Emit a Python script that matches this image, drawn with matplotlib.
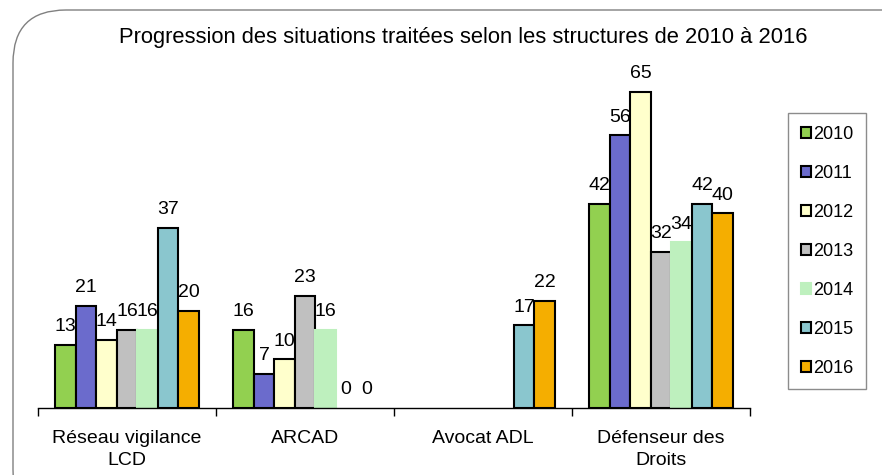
import numpy as np
import matplotlib
matplotlib.use("Agg")
import matplotlib.pyplot as plt
from matplotlib.patches import FancyBboxPatch

plt.rcParams['font.family'] = ['Liberation Sans', 'DejaVu Sans']

# data
categories = ["Réseau vigilance\nLCD", "ARCAD", "Avocat ADL", "Défenseur des\nDroits"]
years = ["2010", "2011", "2012", "2013", "2014", "2015", "2016"]
v2010 = [13, 16, np.nan, 42]
v2011 = [21, 7, np.nan, 56]
v2012 = [14, 10, np.nan, 65]
v2013 = [16, 23, np.nan, 32]
v2014 = [16, 16, np.nan, 34]
v2015 = [37, 0, 17, 42]
v2016 = [20, 0, 22, 40]
series = [v2010, v2011, v2012, v2013, v2014, v2015, v2016]

colors = ["#92D050", "#6B6BCC", "#FFFFCC", "#C0C0C0", "#BEF0BE", "#8AC6CE", "#F5AE00"]
edges = ["black", "black", "black", "black", "#BEF0BE", "black", "black"]

fig = plt.figure(figsize=(8.82, 4.75), dpi=100)

# rounded frame around the chart (cut off at right and bottom like the original)
frame = FancyBboxPatch((13 / 882, -0.1), 1.2, 1.1 - 10 / 475,
                       boxstyle="round,pad=0,rounding_size=0.06",
                       transform=fig.transFigure, fill=False,
                       edgecolor="#808080", linewidth=1.0, mutation_aspect=882 / 475)
fig.patches.append(frame)

ax = fig.add_axes([38 / 882, 67 / 475, 712 / 882, 353 / 475])

x = np.arange(len(categories))
w = 0.115
for i, (vals, yr) in enumerate(zip(series, years)):
    pos = x + (i - 3) * w
    vals = np.array(vals, dtype=float)
    shown = np.nan_to_num(vals) > 0
    ax.bar(pos[shown], vals[shown], width=w, color=colors[i],
           edgecolor=edges[i], linewidth=1.5, label=yr)
    for p, v in zip(pos, vals):
        if np.isnan(v):
            continue
        ax.annotate(f"{int(v)}", (p, v), xytext=(0, 7), textcoords="offset points",
                    ha="center", va="bottom", fontsize=14)

ax.set_xlim(-0.5, 3.5)
ax.set_ylim(0, 72.5)
ax.set_yticks([])
for s in ["left", "right", "top"]:
    ax.spines[s].set_visible(False)
ax.spines["bottom"].set_linewidth(1.0)

ax.set_xticks(x)
ax.set_xticklabels(categories, fontsize=14, linespacing=1.35)
ax.tick_params(axis="x", which="major", length=0, pad=16)
ax.set_xticks(np.arange(-0.5, 4.0, 1.0), minor=True)
ax.tick_params(axis="x", which="minor", length=6, width=1.0)

fig.text(0.525, 0.92, "Progression des situations traitées selon les structures de 2010 à 2016",
         ha="center", va="center", fontsize=15.8)

leg = ax.legend(loc="upper left", bbox_to_anchor=(788 / 882, 1 - 113 / 475),
                bbox_transform=fig.transFigure, fontsize=13, frameon=True,
                fancybox=False, edgecolor="#707070", labelspacing=1.22,
                handlelength=0.55, handleheight=0.55, handletextpad=0.15,
                borderpad=0.7, borderaxespad=0)
leg.get_frame().set_linewidth(1.0)

fig.savefig("out.png", dpi=100)
